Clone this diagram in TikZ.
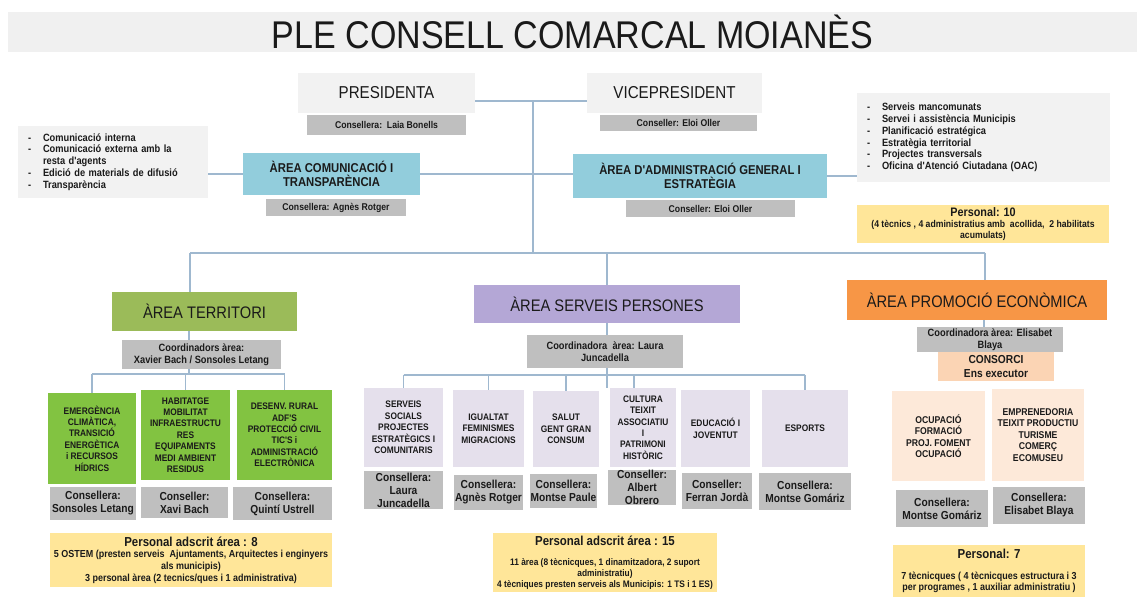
\documentclass[tikz,border=0pt]{standalone}
\usepackage{fontspec}
\setmainfont{Liberation Sans}
\newfontfamily\cond{Liberation Sans}[FakeStretch=0.88]
\usetikzlibrary{backgrounds}
\definecolor{bandc}{HTML}{F0F0F0}
\definecolor{lightbg}{HTML}{F2F2F2}
\definecolor{grayc}{HTML}{BFBFBF}
\definecolor{bluec}{HTML}{92CDDC}
\definecolor{terrc}{HTML}{9BBB59}
\definecolor{greenc}{HTML}{82C341}
\definecolor{purpc}{HTML}{B4A7D6}
\definecolor{lavc}{HTML}{E5E0EC}
\definecolor{orangec}{HTML}{F79646}
\definecolor{peachc}{HTML}{FBD4B4}
\definecolor{lpeachc}{HTML}{FDE9D9}
\definecolor{yellowc}{HTML}{FFE699}
\definecolor{linec}{HTML}{9FB8CF}
\definecolor{txt}{HTML}{1A1A1A}
\newcommand\fsz[2]{\fontsize{#1}{#2}\selectfont}
\newcommand\bx[7]{\node[#6, minimum width={(#4-#2)*0.02cm}, minimum height={(#5-#3)*0.02cm}] (#1) at ({(#2+#4)/2},{(#3+#5)/2}) {#7};}
\newcommand\dsh{\makebox[0.3cm][l]{-}}
\tikzset{
  base/.style={inner sep=0pt, align=center, text=txt},
  lightbox/.style={base, fill=lightbg, font=\cond\fsz{9.8}{11}},
  graybox/.style={base, fill=grayc, font=\cond\bfseries\fsz{5.6}{6.6}},
  graylow/.style={base, fill=grayc, font=\cond\bfseries\fsz{6.6}{7.4}},
  bluebox/.style={base, fill=bluec, font=\cond\bfseries\fsz{7.3}{8}},
  listbox/.style={base, fill=lightbg, align=left, font=\cond\bfseries\fsz{6}{6.7}},
  yellowbox/.style={base, fill=yellowc, font=\cond\bfseries\fsz{5.6}{6.4}},
  bigarea/.style={base, font=\cond\fsz{9.5}{11}},
  subgreen/.style={base, fill=greenc, font=\cond\bfseries\fsz{5.4}{6.5}},
  sublav/.style={base, fill=lavc, font=\cond\bfseries\fsz{5.4}{6.5}},
  subpeach/.style={base, fill=lpeachc, font=\cond\bfseries\fsz{5.6}{6.5}},
  conn/.style={draw=linec, line width=0.6pt},
}
\begin{document}
\begin{tikzpicture}[x=0.02cm, y=-0.02cm]
\useasboundingbox (0,0) rectangle (1137,597);
% title
\bx{title}{8}{12}{1137}{52}{base, fill=bandc, font=\cond\fsz{22}{24}}{PLE CONSELL COMARCAL MOIANÈS}
% top
\bx{pres}{298}{73}{475}{113}{lightbox}{PRESIDENTA}
\bx{presc}{307}{115}{466}{135}{graybox}{Consellera:\ \ Laia Bonells}
\bx{vice}{587}{73}{762}{113}{lightbox}{VICEPRESIDENT}
\bx{vicec}{600}{115}{757}{131}{graybox}{Conseller: Eloi Oller}
\node[listbox, text width=3.4cm, minimum width=3.8cm, minimum height=1.44cm, inner xsep=0.2cm] (llist) at (113,162) {\dsh Comunicació interna\\\dsh Comunicació externa amb la\\\hspace*{0.3cm}resta d'agents\\\dsh Edició de materials de difusió\\\dsh Transparència};
\bx{acom}{243}{153}{420}{195}{bluebox}{ÀREA COMUNICACIÓ I\\TRANSPARÈNCIA}
\bx{acomc}{266}{199}{406}{216}{graybox}{Consellera: Agnès Rotger}
\bx{aadm}{573}{154}{827}{198}{bluebox}{ÀREA D'ADMINISTRACIÓ GENERAL I\\ESTRATÈGIA}
\bx{aadmc}{626}{200}{795}{217}{graybox}{Conseller: Eloi Oller}
\node[listbox, text width=4.66cm, minimum width=5.06cm, minimum height=1.78cm, inner xsep=0.2cm] (rlist) at (983.5,137.5) {\dsh Serveis mancomunats\\\dsh Servei i assistència Municipis\\\dsh Planificació estratégica\\\dsh Estratègia territorial\\\dsh Projectes transversals\\\dsh Oficina d'Atenció Ciutadana (OAC)};
\bx{pers10}{857}{205}{1109}{243}{yellowbox}{{\fsz{7}{8}Personal: 10}\\(4 tècnics , 4 administratius amb \ acollida, \ 2 habilitats\\acumulats)}
% territori
\bx{terr}{112}{292}{297}{331}{bigarea, fill=terrc}{ÀREA TERRITORI}
\bx{tcoord}{122}{340}{281}{369}{graybox, font=\cond\bfseries\fsz{6}{6.9}}{Coordinadors àrea:\\Xavier Bach / Sonsoles Letang}
\bx{t1}{48}{393}{136}{484}{subgreen}{EMERGÈNCIA\\CLIMÀTICA,\\TRANSICIÓ\\ENERGÈTICA\\i RECURSOS\\HÍDRICS}
\bx{t2}{141}{390}{230}{480}{subgreen}{HABITATGE\\MOBILITAT\\INFRAESTRUCTU\\RES\\EQUIPAMENTS\\MEDI AMBIENT\\RESIDUS}
\bx{t3}{237}{390}{332}{480}{subgreen}{DESENV. RURAL\\ADF'S\\PROTECCIÓ CIVIL\\TIC'S i\\ADMINISTRACIÓ\\ELECTRÒNICA}
\bx{t1c}{50}{487}{136}{520}{graylow}{Consellera:\\Sonsoles Letang}
\bx{t2c}{141}{487}{228}{518}{graylow}{Conseller:\\Xavi Bach}
\bx{t3c}{233}{487}{332}{520}{graylow}{Consellera:\\Quintí Ustrell}
\bx{pers8}{50}{533}{332}{587}{yellowbox, font=\cond\bfseries\fsz{5.8}{6.6}}{{\fsz{7.4}{8.6}Personal adscrit área : 8}\\5 OSTEM (presten serveis \ Ajuntaments, Arquitectes i enginyers\\als municipis)\\3 personal àrea (2 tecnics/ques i 1 administrativa)}
% serveis persones
\bx{serv}{474}{285}{740}{323}{bigarea, fill=purpc}{ÀREA SERVEIS PERSONES}
\bx{scoord}{527}{335}{683}{368}{graybox, font=\cond\bfseries\fsz{6}{6.9}}{Coordinadora \ àrea: Laura\\Juncadella}
\bx{s1}{364}{388}{443}{467}{sublav}{SERVEIS\\SOCIALS\\PROJECTES\\ESTRATÈGICS I\\COMUNITARIS}
\bx{s2}{453}{390}{524}{467}{sublav}{IGUALTAT\\FEMINISMES\\MIGRACIONS}
\bx{s3}{533}{391}{599}{467}{sublav}{SALUT\\GENT GRAN\\CONSUM}
\bx{s4}{610}{388}{676}{467}{sublav}{CULTURA\\TEIXIT\\ASSOCIATIU\\I\\PATRIMONI\\HISTÒRIC}
\bx{s5}{681}{390}{750}{467}{sublav}{EDUCACIÓ I\\JOVENTUT}
\bx{s6}{762}{390}{848}{467}{sublav}{ESPORTS}
\bx{s1c}{364}{471}{443}{509}{graylow}{Consellera:\\Laura\\Juncadella}
\bx{s2c}{454}{475}{523}{510}{graylow}{Consellera:\\Agnès Rotger}
\bx{s3c}{530}{474}{597}{508}{graylow}{Consellera:\\Montse Paule}
\bx{s4c}{608}{471}{676}{504}{graylow}{Conseller:\\Albert\\Obrero}
\bx{s5c}{682}{473}{752}{509}{graylow}{Conseller:\\Ferran Jordà}
\bx{s6c}{759}{473}{851}{510}{graylow}{Consellera:\\Montse Gomáriz}
\bx{pers15}{493}{533}{717}{592}{yellowbox, font=\cond\bfseries\fsz{5.4}{6.4}}{{\fsz{7.4}{8.6}Personal adscrit área : 15}\\[5pt]11 àrea (8 tècnicques, 1 dinamitzadora, 2 suport\\administratiu)\\4 tècniques presten serveis als Municipis: 1 TS i 1 ES)}
% promocio
\bx{prom}{847}{280}{1107}{320}{bigarea, fill=orangec}{ÀREA PROMOCIÓ ECONÒMICA}
\bx{pcoord}{917}{327}{1063}{352}{graybox, font=\cond\bfseries\fsz{6}{6.9}}{Coordinadora àrea: Elisabet\\Blaya}
\bx{cons}{938}{352}{1054}{381}{base, fill=peachc, font=\cond\bfseries\fsz{6.6}{7.6}}{CONSORCI\\Ens executor}
\bx{p1}{892}{391}{985}{481}{subpeach}{OCUPACIÓ\\FORMACIÓ\\PROJ. FOMENT\\OCUPACIÓ}
\bx{p2}{992}{389}{1084}{481}{subpeach}{EMPRENEDORIA\\TEIXIT PRODUCTIU\\TURISME\\COMERÇ\\ECOMUSEU}
\bx{p1c}{896}{490}{988}{527}{graylow}{Consellera:\\Montse Gomáriz}
\bx{p2c}{993}{487}{1085}{524}{graylow}{Consellera:\\Elisabet Blaya}
\bx{pers7}{893}{545}{1085}{597}{yellowbox, font=\cond\bfseries\fsz{5.8}{6.6}}{{\fsz{7.4}{8.6}Personal: 7}\\[5pt]7 tècnicques ( 4 tècnicques estructura i 3\\per programes , 1 auxiliar administratiu )}
% connectors
\begin{scope}[on background layer]
\fill[white] (0,0) rectangle (1137,597);
\coordinate (j1) at (533,101);
\coordinate (jh) at (533,253);
\coordinate (tbj) at (190,253);
\coordinate (pbj) at (985,253);
\coordinate (tb) at (189,374);
\coordinate (sb) at (607,375);
\draw[conn] (pres.east |- j1) -- (vice.west |- j1);
\draw[conn] (j1) -- (jh);
\draw[conn] (acom.west -| llist.east) -- (acom.west);
\draw[conn] (acom.east) -- (acom.east -| aadm.west);
\draw[conn] (aadm.east) -- (aadm.east -| rlist.west);
\draw[conn] (tbj) -- (pbj);
\draw[conn] (tbj) -- (tbj |- terr.north);
\draw[conn] (pbj) -- (pbj |- prom.north);
\draw[conn] (serv.north |- jh) -- (serv.north);
\draw[conn] (tb |- terr.south) -- (tb);
\draw[conn] (t1.north |- tb) -- (t3.north |- tb);
\foreach \t in {t1,t2,t3} \draw[conn] (\t.north |- tb) -- (\t.north);
\draw[conn] (serv.south) -- (serv.south |- s4.north);
\draw[conn] (s1.north |- sb) -- (s6.north |- sb);
\foreach \t in {s1,s2,s3,s6} \draw[conn] (\t.north |- sb) -- (\t.north);
\draw[conn] ([xshift=-0.18cm]s4.north |- sb) -- ([xshift=-0.18cm]s4.north);
\draw[conn] ([xshift=0.14cm]prom.south) -- ([xshift=0.14cm]prom.south |- pcoord.north);
\end{scope}
\end{tikzpicture}
\end{document}
